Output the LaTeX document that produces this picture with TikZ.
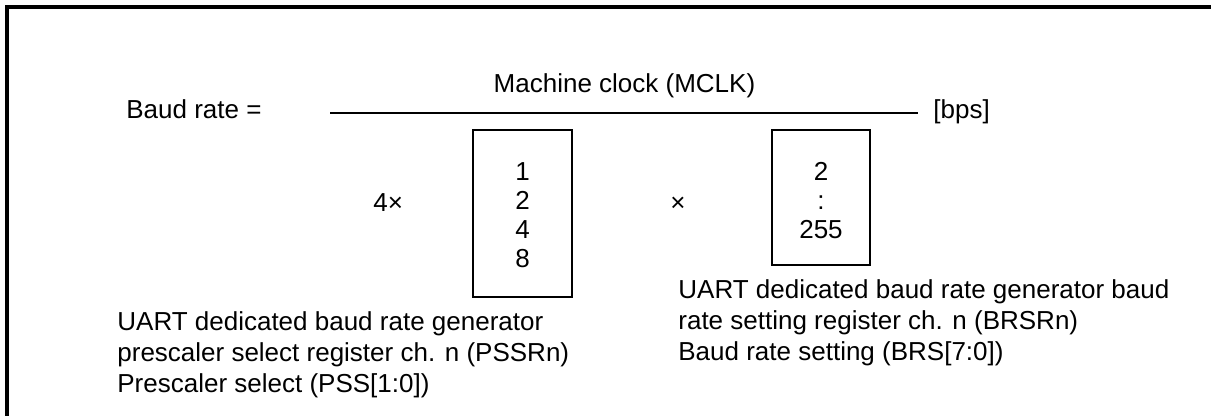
\documentclass[tikz,border=0pt]{standalone}
\usepackage{fontspec}
\setmainfont{Liberation Sans}

\begin{document}
\begin{tikzpicture}[x=0.5pt,y=-0.5pt,font=\fontsize{13}{15.5}\selectfont,
  lbl/.style={anchor=base west,inner sep=0pt},
  num/.style={anchor=base,inner sep=0pt},
  regbox/.style={draw,line width=1pt,inner sep=0pt},
  note/.style={anchor=north west,inner sep=0pt,align=left}]
\useasboundingbox (0,0) rectangle (1211,416);
\draw[line width=1.8pt] (7,416) -- (7,7) -- (1211,7);
\node[lbl] (baud) at (126,119) {Baud rate =};
\node[num] (mclk) at (624.5,93) {Machine clock (MCLK)};
\coordinate (fracl) at (330,113);
\coordinate (fracr) at (918,113);
\draw[line width=1pt] (fracl) -- (fracr);
\node[lbl] (bps) at (933,119) {[bps]};
\node[lbl] (four) at (373,212) {4×};
\node[regbox, minimum width=49.5pt, minimum height=83.5pt] (pssbox) at (522.5,213.5) {};
\foreach \v [count=\i] in {1,2,4,8}
  \node[num] (pss\i) at (522.5,152+29*\i) {\v};
\node[lbl] (times) at (670,212) {×};
\node[regbox, minimum width=49pt, minimum height=67.5pt] (brsbox) at (821,197.5) {};
\foreach \v [count=\i] in {2,:,255}
  \node[num] (brs\i) at (821,152+29*\i) {\v};
\node[note] (pssr) at (117,311) {UART dedicated baud rate generator\\prescaler select register ch. n (PSSRn)\\Prescaler select (PSS[1:0])};
\node[note] (brsr) at (678,279) {UART dedicated baud rate generator baud\\rate setting register ch. n (BRSRn)\\Baud rate setting (BRS[7:0])};
\end{tikzpicture}
\end{document}
